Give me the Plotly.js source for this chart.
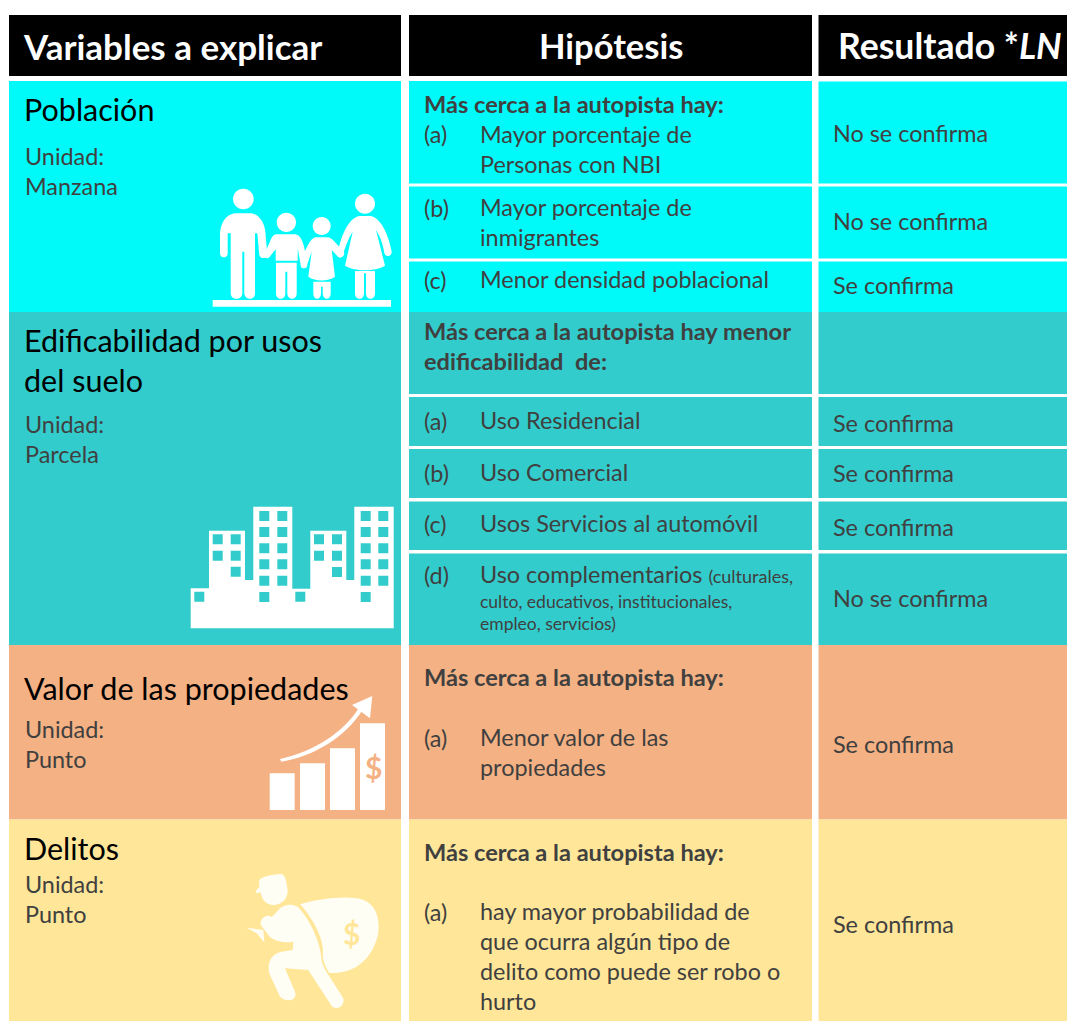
<!DOCTYPE html>
<html><head><meta charset="utf-8">
<script src="https://cdn.plot.ly/plotly-3.0.1.min.js"></script>
<style>html,body{margin:0;padding:0;background:#fff;overflow:hidden}</style></head>
<body><div id="chart" style="width:1067px;height:1021px"></div>
<script>
const CYAN='#00FAFA',TEAL='#33CCCC',ORANGE='#F4B183',YELLOW='#FFE699',BLACK='#000000';
const INK='#404040', FONT='Lato, Carlito, Calibri, sans-serif';

// table cells
const cellLeft  =[9,409,818.5, 9,9,9,9, 409,409,409, 409,409,409,409,409, 409,409, 818.5,818.5,818.5, 818.5,818.5,818.5,818.5,818.5, 818.5,818.5];
const cellRight =[401,812,1067, 401,401,401,401, 812,812,812, 812,812,812,812,812, 812,812, 1067,1067,1067, 1067,1067,1067,1067,1067, 1067,1067];
const cellTop   =[15,15,15, 81,312,645,819.5, 81,186.5,261.5, 312,397,449,501.5,553.5, 645,819.5, 81.5,186.5,261.5, 312,397,449,501.5,553.5, 645,819.5];
const cellBottom=[76,76,76, 312,645,819.5,1021, 183.5,258.5,312, 394,446,498,550,645, 819.5,1021, 183.5,258.5,312, 394,446,498,550,645, 819.5,1021];
const cellColor =[BLACK,BLACK,BLACK, CYAN,TEAL,ORANGE,YELLOW, CYAN,CYAN,CYAN, TEAL,TEAL,TEAL,TEAL,TEAL, ORANGE,YELLOW, CYAN,CYAN,CYAN, TEAL,TEAL,TEAL,TEAL,TEAL, ORANGE,YELLOW];

// headers
const headerText=['Variables a explicar','Hipótesis','Resultado *<i>LN</i>'];
const headerX=[22,611,837];
const headerAnchor=['left','center','left'];
const headerSize=[35,34.5,35.6];

// first column
const varText=['Población','Edificabilidad por usos','del suelo','Valor de las propiedades','Delitos'];
const varY=[109,340,380,688,848];
const unitText=['Unidad:','Manzana','Unidad:','Parcela','Unidad:','Punto','Unidad:','Punto'];
const unitY=[155.5,185.5,423.5,453.5,728.5,758.5,883.5,913.5];

// second column
const leadText=['Más cerca a la autopista hay:','Más cerca a la autopista hay menor','edificabilidad  de:','Más cerca a la autopista hay:','Más cerca a la autopista hay:'];
const leadY=[104,330.5,360.5,676.5,851.5];
const markText=['(a)','(b)','(c)','(a)','(b)','(c)','(d)','(a)','(a)'];
const markY=[134,208,280,421,473,524,575,738,912];
const hypText=['Mayor porcentaje de','Personas con NBI','Mayor porcentaje de','inmigrantes','Menor densidad poblacional','Uso Residencial','Uso Comercial','Usos Servicios al automóvil','Uso complementarios <span style="font-size:18px">(culturales,</span>','Menor valor de las','propiedades','hay mayor probabilidad de','que ocurra algún tipo de','delito como puede ser robo o','hurto'];
const hypY=[134,164,207,237,279,420,472,523,574,737,767,911,941,971,1001];
const noteText=['culto, educativos, institucionales,','empleo, servicios)'];
const noteY=[601,623];

// third column
const resText=['No se confirma','No se confirma','Se confirma','Se confirma','Se confirma','Se confirma','No se confirma','Se confirma','Se confirma'];
const resY=[133,221,285,423,473,527,598,744,924];

const S={body:23.4,unit:23.4,lead:23.6,var:30.5,note:17.5};

function label(x,y,text,size,color,anchor,bold){
  return {x:x,y:y,xref:'x',yref:'y',text:bold?'<b>'+text+'</b>':text,showarrow:false,xanchor:anchor||'left',yanchor:'middle',
    borderpad:0,font:{family:FONT,size:size,color:color}};
}
const annotations=[];
headerText.forEach((t,i)=>annotations.push(label(headerX[i],45.5,t,headerSize[i],'#ffffff',headerAnchor[i],true)));
varText.forEach((t,i)=>annotations.push(label(22.7,varY[i],t,S.var,'#000000')));
unitText.forEach((t,i)=>annotations.push(label(23.7,unitY[i],t,S.unit,INK)));
leadText.forEach((t,i)=>annotations.push(label(422.8,leadY[i],t,S.lead,INK,'left',true)));
markText.forEach((t,i)=>annotations.push(label(422.8,markY[i],t,S.body,INK)));
hypText.forEach((t,i)=>annotations.push(label(478.8,hypY[i],t,S.body,INK)));
noteText.forEach((t,i)=>annotations.push(label(478.8,noteY[i],t,S.note,INK)));
resText.forEach((t,i)=>annotations.push(label(832,resY[i],t,S.body,INK)));
annotations.push(label(373,767,'<b>$</b>',30,ORANGE,'center'));
annotations.push(label(351,933,'<b>$</b>',30,YELLOW,'center'));

// icons: outlines, mapped onto the axes
function place(path,ox,oy){
  return path.replace(/(-?\d+(?:\.\d+)?),(-?\d+(?:\.\d+)?)/g,(m,a,b)=>(ox+a/3).toFixed(1)+','+(oy+b/3).toFixed(1));
}
const rects=(list)=>list.map(r=>`M${r[0]},${r[1]} L${r[2]},${r[1]} L${r[2]},${r[3]} L${r[0]},${r[3]} Z`).join(' ');
const circle=(cx,cy,r)=>{const k=r*0.5523;return `M${cx-r},${cy} C${cx-r},${cy-k} ${cx-k},${cy-r} ${cx},${cy-r} C${cx+k},${cy-r} ${cx+r},${cy-k} ${cx+r},${cy} C${cx+r},${cy+k} ${cx+k},${cy+r} ${cx},${cy+r} C${cx-k},${cy+r} ${cx-r},${cy+k} ${cx-r},${cy} Z`;};

const familyPaths=[
 rects([[638,900,1173,920]]),
 circle(730,597,31),circle(859,667,29),circle(965,678,27),circle(1095,611,30),
 'M660,760 L660,710 C660,660 685,640 710,640 L750,640 C775,640 797,665 797,710 L802,762 C802,778 780,778 778,765 L772,700 L765,700 L765,880 C765,902 735,902 733,880 L733,755 L727,755 L727,880 C727,902 692,902 692,880 L692,700 L683,700 L683,760 C683,776 660,776 660,760 Z',
 'M830,703 L885,703 C905,705 913,730 922,795 C922,808 903,808 902,795 L893,745 L893,782 L827,782 L827,748 L808,772 C798,780 785,768 795,758 L810,725 C815,710 822,703 830,703 Z',
 'M828,788 L890,788 L890,880 C890,902 863,902 862,880 L862,815 L856,815 L856,880 C856,902 828,902 828,880 Z',
 'M945,712 L985,712 C1000,715 1010,735 1030,752 C1040,768 1020,780 1012,768 L995,750 L1005,830 C985,845 945,845 925,830 L935,755 L921,795 C918,808 902,808 902,795 C910,765 925,720 945,712 Z',
 'M940,845 L992,845 L992,880 C992,902 969,902 968,880 L968,860 L963,860 L963,880 C963,902 940,902 940,880 Z',
 'M1080,648 L1110,648 C1140,650 1165,700 1175,755 C1175,772 1155,772 1153,758 C1148,725 1135,700 1128,690 L1155,797 C1125,815 1065,815 1035,797 L1058,695 C1045,715 1035,745 1030,760 C1022,772 1010,770 1015,752 C1025,700 1050,650 1080,648 Z',
 'M1065,813 L1125,813 L1125,880 C1125,902 1098,902 1098,880 L1098,820 L1092,820 L1092,880 C1092,902 1065,902 1065,880 Z'
];

const windowRows=[78,126,175,223,272];
const windowCols=[[283,337],[587,640]];
const lowCols=[[143,197],[447,501]];
const winList=[[88,320],[391,320],[283,321],[587,321],[197,245],[501,246]];
windowCols.forEach(c=>c.forEach(x=>windowRows.forEach(y=>winList.push([x,y]))));
lowCols.forEach(c=>c.forEach(x=>[148,197].forEach(y=>winList.push([x,y]))));
const buildingPath='M62,415 L62,295 L117,295 L117,122 L225,122 L225,270 L250,270 L250,50 L367,50 L367,296 L421,296 L421,122 L529,122 L529,270 L553,270 L553,50 L671,50 L671,415 Z '+
  rects(winList.map(w=>[w[0]-15,w[1]-15,w[0]+15,w[1]+15]));

const growthPaths=[
 rects([[119,280,194,390],[210,250,285,390],[300,205,375,390],[390,130,465,390]]),
 'M150,237 C250,215 340,160 388,82 L398,90 C345,172 255,228 154,245 Z',
 'M427,48 L366,75 L420,115 Z'
];
const thiefPaths=[
 'M88,60 C95,48 140,42 155,42 C165,45 170,65 172,85 C178,115 155,135 130,135 C110,135 95,120 92,97 L80,100 C72,95 85,85 88,80 Z',
 'M150,145 C165,132 190,130 205,142 C240,180 268,240 274,290 C274,310 282,322 292,340 L340,415 C345,440 320,452 305,438 L235,330 L165,325 L195,395 C205,420 170,430 150,410 L120,345 C108,310 125,280 155,275 L188,270 L190,245 C165,250 130,245 115,225 L92,195 C90,175 110,160 125,172 Z',
 'M50,203 L100,210 L103,247 L80,220 Z',
 'M211,133 C270,115 360,105 400,120 C440,135 450,180 445,220 C430,290 380,345 297,338 C287,320 278,305 279,285 C282,240 256,185 211,133 Z'
];
function iconShape(path,ox,oy,color,evenodd){
  const s={type:'path',xref:'x',yref:'y',path:place(path,ox,oy),fillcolor:color,line:{width:0},layer:'above'};
  if(evenodd)s.fillrule='evenodd';
  return s;
}
const shapes=[
 ...familyPaths.map(p=>iconShape(p,0,0,'#ffffff')),
 iconShape(buildingPath,170,490,'#ffffff',true),
 ...growthPaths.map(p=>iconShape(p,230,680,'#ffffff')),
 ...thiefPaths.map(p=>iconShape(p,230,860,'#FFFEF4'))
];

const cells={type:'bar',orientation:'v',
  x:cellLeft.map((l,i)=>(l+cellRight[i])/2),
  width:cellLeft.map((l,i)=>cellRight[i]-l),
  base:cellTop,
  y:cellTop.map((t,i)=>cellBottom[i]-t),
  marker:{color:cellColor,line:{width:0}},hoverinfo:'skip',showlegend:false};

const hiddenAxis={visible:false,showgrid:false,zeroline:false,fixedrange:true};
Plotly.newPlot('chart',[cells],{
  width:1067,height:1021,margin:{l:0,r:0,t:0,b:0,pad:0},
  paper_bgcolor:'#ffffff',plot_bgcolor:'#ffffff',barmode:'overlay',showlegend:false,
  xaxis:{...hiddenAxis,range:[0,1067]},
  yaxis:{...hiddenAxis,range:[1021,0]},
  annotations:annotations,shapes:shapes
},{displayModeBar:false,staticPlot:true});
</script></body></html>
